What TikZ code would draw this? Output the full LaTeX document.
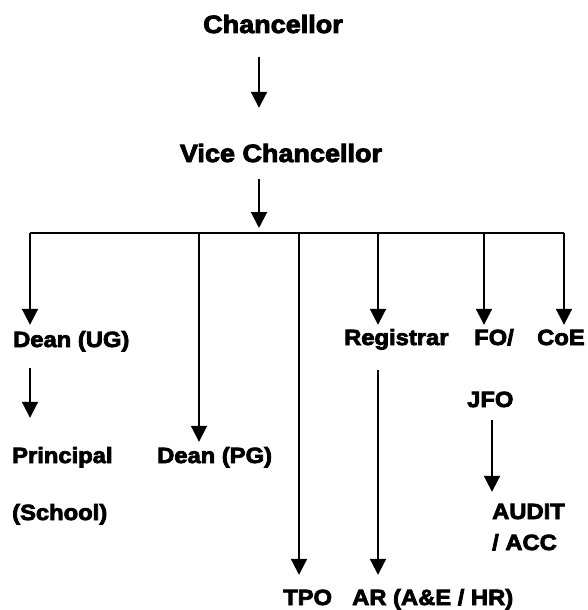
\documentclass[tikz,border=0pt]{standalone}
\usepackage{fontspec}
\setmainfont{Liberation Sans}[BoldFeatures={FakeBold=3.5,FakeStretch=1.08}]
\usetikzlibrary{arrows.meta}
\newcommand{\chartfont}{\fontsize{22}{26}\selectfont\bfseries}
\newcommand{\headfont}{\fontsize{25}{30}\selectfont\bfseries}

\begin{document}
\begin{tikzpicture}[x=1pt,y=-1pt,
  post/.style={font=\chartfont,inner sep=0pt,text height=16pt,text depth=5pt,anchor=base west},
  head/.style={font=\headfont,inner sep=0pt,text height=18pt,text depth=5pt,anchor=base},
  link/.style={line width=2pt,-{Triangle[length=16pt,width=16pt]}}]
\useasboundingbox (0,0) rectangle (587,610);
\node[head] (chancellor)   at (273, 33) {Chancellor};
\node[head] (vc)           at (281,162) {Vice Chancellor};
\node[post] (deanug)       at ( 13,347) {Dean (UG)};
\node[post] (registrar)    at (344,345) {Registrar};
\node[post] (fo)           at (474,345) {FO/};
\node[post] (coe)          at (537,345) {CoE};
\node[post] (jfo)          at (467,407) {JFO};
\node[post] (principal)    at ( 12,463) {Principal};
\node[post] (deanpg)       at (157,463) {Dean (PG)};
\node[post] (school)       at ( 12,520) {(School)};
\node[post] (audit)        at (492,519) {AUDIT};
\node[post] (acc)          at (492,550) {/ ACC};
\node[post] (tpo)          at (283,605) {TPO};
\node[post] (ar)           at (352,605) {AR (A\&E / HR)};

\coordinate (chancellorOut) at (259, 57);
\coordinate (vcOut)         at (259,179);
\coordinate (busUG)         at ( 30,233);
\coordinate (busPG)         at (199,233);
\coordinate (busTPO)        at (299,233);
\coordinate (busReg)        at (378,233);
\coordinate (busFO)         at (484,233);
\coordinate (busCoE)        at (564,233);
\coordinate (deanugOut)     at ( 30,368);
\coordinate (registrarOut)  at (378,370);
\coordinate (jfoOut)        at (492,420);

\draw[link,shorten >=36pt] (chancellorOut) -- (chancellorOut |- vc.north);
\draw[link,shorten >=5pt]  (vcOut) -- (busUG -| vcOut);
\draw[line width=2pt] (busUG) -- (busCoE);
\draw[link,shorten >=6pt]  (busUG)  -- (busUG |- deanug.north);
\draw[link,shorten >=5pt]  (busPG)  -- (busPG |- deanpg.north);
\draw[link,shorten >=14pt] (busTPO) -- (busTPO |- tpo.north);
\draw[link,shorten >=4pt]  (busReg) -- (busReg |- registrar.north);
\draw[link,shorten >=4pt]  (busFO)  -- (busFO |- fo.north);
\draw[link,shorten >=4pt]  (busCoE) -- (busCoE |- coe.north);
\draw[link,shorten >=29pt] (deanugOut) -- (deanugOut |- principal.north);
\draw[link,shorten >=14pt] (registrarOut) -- (registrarOut |- ar.north);
\draw[link,shorten >=11pt] (jfoOut) -- (jfoOut |- audit.north);
\end{tikzpicture}
\end{document}
